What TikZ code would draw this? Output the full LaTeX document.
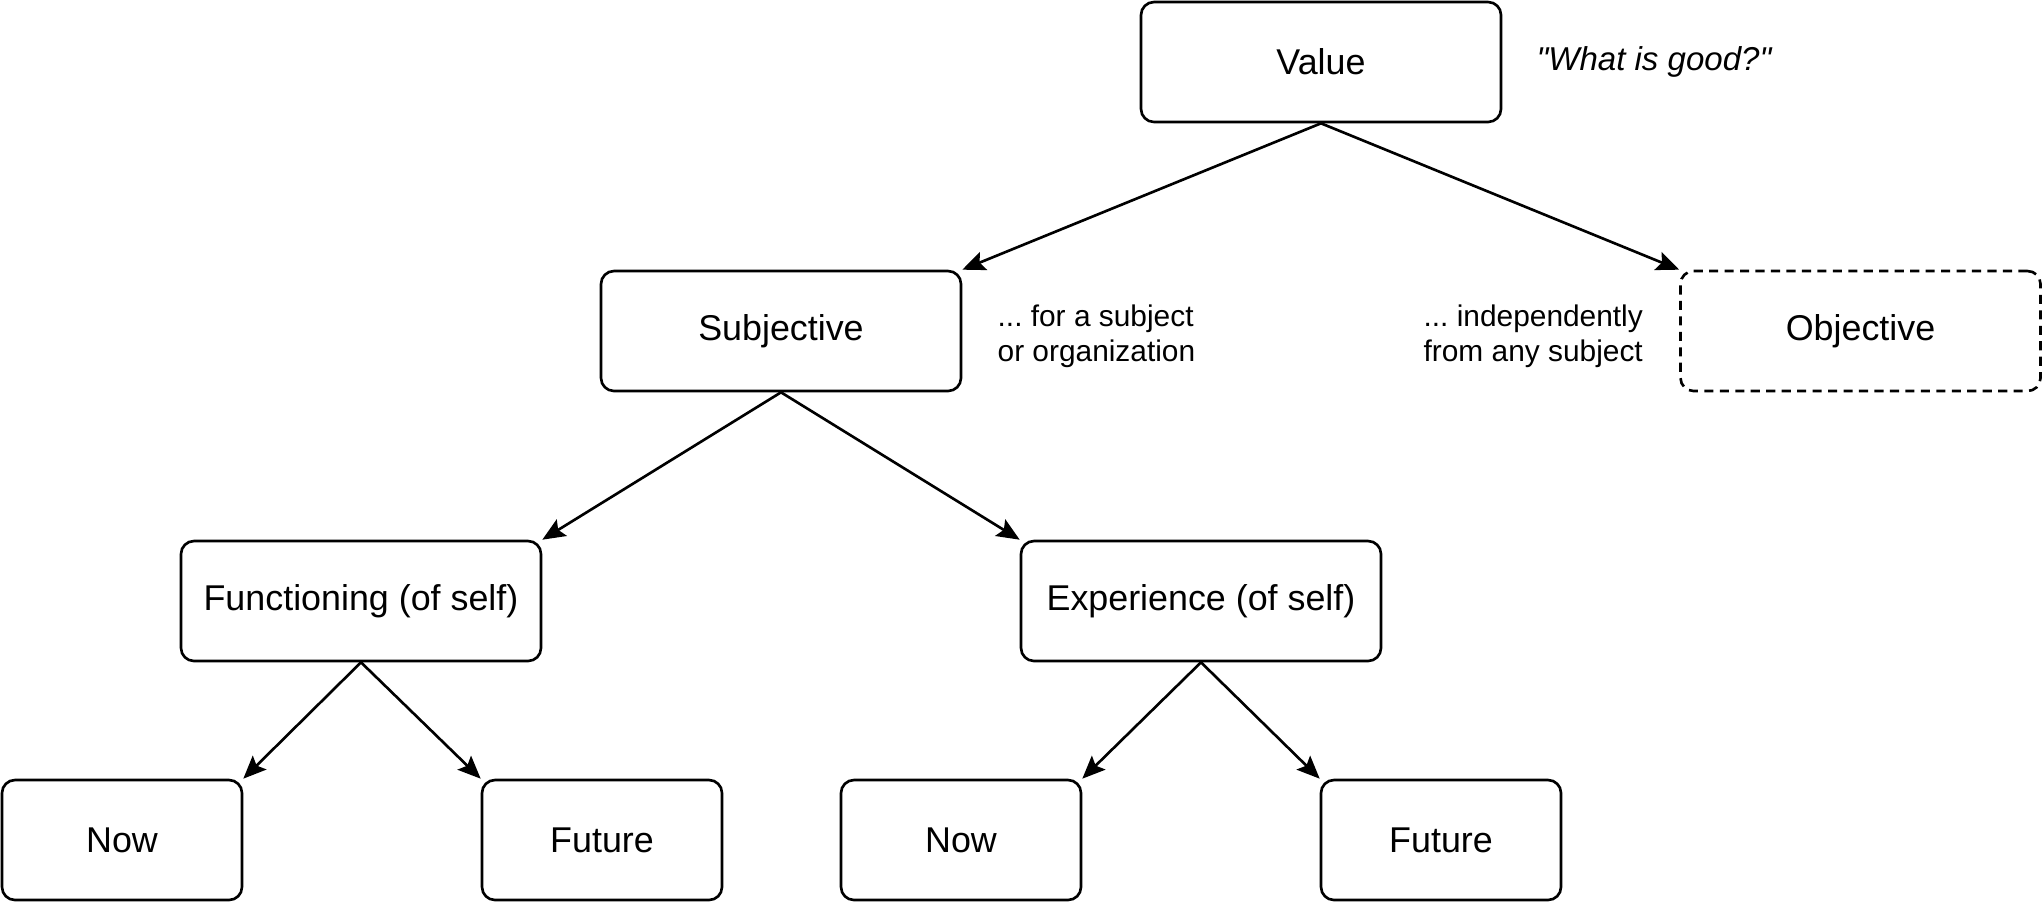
\documentclass[tikz,border=0pt]{standalone}
\usepackage{fontspec}
\setmainfont{Liberation Sans}[Ligatures=TeXOff]
\usetikzlibrary{arrows.meta, positioning}
\frenchspacing

\begin{document}
\begin{tikzpicture}[->, >={Stealth[length=6.5pt,width=5.5pt,inset=1.2pt]}, line width=0.75pt]
\tikzstyle{box}=[rectangle, draw=black, rounded corners=0.13cm, minimum width=3.6cm, minimum height=1.2cm, font=\fontsize{10.2}{12}\selectfont]
\tikzstyle{leaf}=[box, minimum width=2.4cm]
\tikzstyle{note}=[align=left, inner sep=0pt, font=\fontsize{8.5}{10}\selectfont]

\useasboundingbox (0,0) rectangle (20.43,-9.03);

\node[box] (value) at (13.21,-0.62) {Value};
\node[box] (subj) at (7.81,-3.31) {Subjective};
\node[box, dashed, dash pattern=on 2.6pt off 1.8pt] (obj) at (18.605,-3.31) {Objective};
\node[box] (func) at (3.61,-6.01) {Functioning (of self)};
\node[box] (exper) at (12.01,-6.01) {Experience (of self)};
\node[leaf] (now1) at (1.22,-8.40) {Now};
\node[leaf] (fut1) at (6.02,-8.40) {Future};
\node[leaf] (now2) at (9.61,-8.40) {Now};
\node[leaf] (fut2) at (14.41,-8.40) {Future};

\node[note, font=\fontsize{9.4}{11}\selectfont\itshape, anchor=west] (good) [right=0.33cm of value] {"What is good?"};
\node[note, anchor=west, yshift=-0.05cm] (forsubj) [right=0.34cm of subj] {... for a subject\\or organization};
\node[note, anchor=east, yshift=-0.05cm] (indep) [left=0.35cm of obj] {... independently\\from any subject};

\path
(value.south) edge (subj.north east)
              edge (obj.north west)
(subj.south)  edge (func.north east)
              edge (exper.north west)
(func.south)  edge (now1.north east)
              edge (fut1.north west)
(exper.south) edge (now2.north east)
              edge (fut2.north west);
\end{tikzpicture}
\end{document}
